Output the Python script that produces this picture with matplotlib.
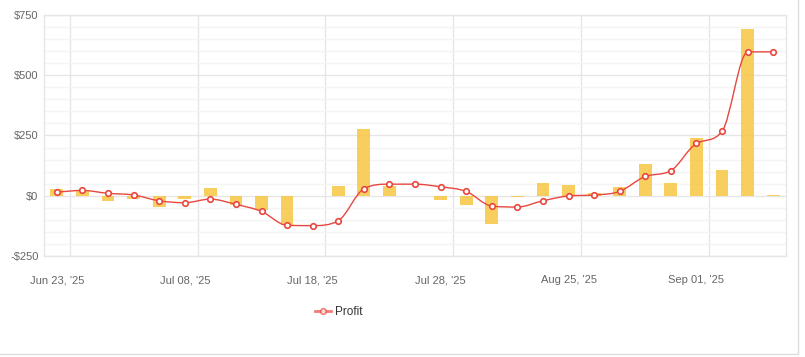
"""Daily profit bars with a smoothed profit line, category date axis."""

import numpy as np
from matplotlib import pyplot as plt
from matplotlib.path import Path
from matplotlib.patches import PathPatch, Rectangle
from matplotlib.lines import Line2D
from matplotlib.ticker import MultipleLocator, FuncFormatter

# values
daily_profit = [29, 24, -23, -15, -45, -15, 33, -40, -61, -123,
                0, 41, 278, 41, 0, -19, -39, -118, -6, 52,
                43, 10, 35, 131, 53, 239, 105, 690, 4]
profit_line = [15, 22, 10, 3, -21, -29, -14, -36, -65, -123,
               -124, -104, 29, 48, 48, 37, 18, -43, -47, -21,
               -1, 3, 18, 80, 104, 217, 267, 597, 597]
tick_labels = ["Jun 23, '25", "Jul 08, '25", "Jul 18, '25",
               "Jul 28, '25", "Aug 25, '25", "Sep 01, '25"]
tick_index = [0, 5, 10, 15, 20, 25]

BAR_COLOR = '#f7c53c'
LINE_COLOR = '#e8473f'
GRID_MAJOR = '#e6e6e6'
GRID_MINOR = '#f4f4f4'
TEXT_COLOR = '#666666'

plt.rcParams['font.family'] = ['Liberation Sans', 'DejaVu Sans']


def monotone_path(xs, ys):
    """ Build a bezier path through the points with monotone tangents
    (same idea as chart.js 'monotone' interpolation).
    """
    xs = np.asarray(xs, float)
    ys = np.asarray(ys, float)
    n = len(xs)
    dx = np.diff(xs)
    slopes = np.diff(ys) / dx
    tang = np.zeros(n)
    tang[0] = slopes[0]
    tang[-1] = slopes[-1]
    for i in range(1, n - 1):
        if slopes[i - 1] * slopes[i] <= 0:
            tang[i] = 0.0
        else:
            tang[i] = (slopes[i - 1] + slopes[i]) / 2.0
    for i in range(n - 1):
        if slopes[i] == 0:
            tang[i] = tang[i + 1] = 0.0
            continue
        a = tang[i] / slopes[i]
        b = tang[i + 1] / slopes[i]
        s = a * a + b * b
        if s > 9:
            t = 3.0 / np.sqrt(s)
            tang[i] = t * a * slopes[i]
            tang[i + 1] = t * b * slopes[i]
    verts = [(xs[0], ys[0])]
    codes = [Path.MOVETO]
    for i in range(n - 1):
        h = dx[i] / 3.0
        verts += [(xs[i] + h, ys[i] + tang[i] * h),
                  (xs[i + 1] - h, ys[i + 1] - tang[i + 1] * h),
                  (xs[i + 1], ys[i + 1])]
        codes += [Path.CURVE4] * 3
    return Path(verts, codes)


fig = plt.figure(figsize=(8.05, 3.57), dpi=100)
ax = fig.add_axes([0.0547, 0.283, 0.9217, 0.675])

x = np.arange(len(daily_profit))
ax.bar(x, daily_profit, width=0.5, color=BAR_COLOR, alpha=0.82, zorder=2)

curve = monotone_path(x, profit_line)
ax.add_patch(PathPatch(curve, facecolor='none', edgecolor=LINE_COLOR,
                       lw=1.0, zorder=3))
ax.plot(x, profit_line, ls='none', marker='o', ms=4.0, mfc='white',
        mec=LINE_COLOR, mew=1.2, zorder=4)

ax.set_xlim(-0.5, len(daily_profit) - 0.5)
ax.set_ylim(-250, 750)

ax.yaxis.set_major_locator(MultipleLocator(250))
ax.yaxis.set_minor_locator(MultipleLocator(50))
ax.yaxis.set_major_formatter(FuncFormatter(
    lambda v, p: ('-$%d' % abs(v)) if v < 0 else ('$%d' % v)))
ax.grid(axis='y', which='major', color=GRID_MAJOR, lw=1.0, zorder=0)
ax.grid(axis='y', which='minor', color=GRID_MINOR, lw=1.0, zorder=0)
for i in tick_index:
    ax.axvline(i + 0.5, color=GRID_MAJOR, lw=1.0, zorder=0)

ax.set_xticks(tick_index)
ax.set_xticklabels(tick_labels)
ax.tick_params(axis='both', which='both', length=0, labelsize=8,
               labelcolor=TEXT_COLOR)
ax.tick_params(axis='x', pad=14)
ax.tick_params(axis='y', pad=4)

for spine in ax.spines.values():
    spine.set_color(GRID_MAJOR)
    spine.set_linewidth(1.0)

handle = Line2D([], [], color=LINE_COLOR, lw=2, alpha=0.7, marker='o',
                ms=4.0, mfc='white', mec=LINE_COLOR, mew=1.2)
fig.legend([handle], ['Profit'], loc='center', bbox_to_anchor=(0.421, 0.125),
           frameon=False, fontsize=8.5, handlelength=1.4, handletextpad=0.35,
           labelcolor='#333333')

# outer card border (right and bottom edges only)
fig.patches.append(Rectangle((-0.05, 0.008), 1.041, 1.2, transform=fig.transFigure,
                             fill=False, edgecolor='#dddddd', lw=1.0))

fig.savefig('out.png', dpi=100)
